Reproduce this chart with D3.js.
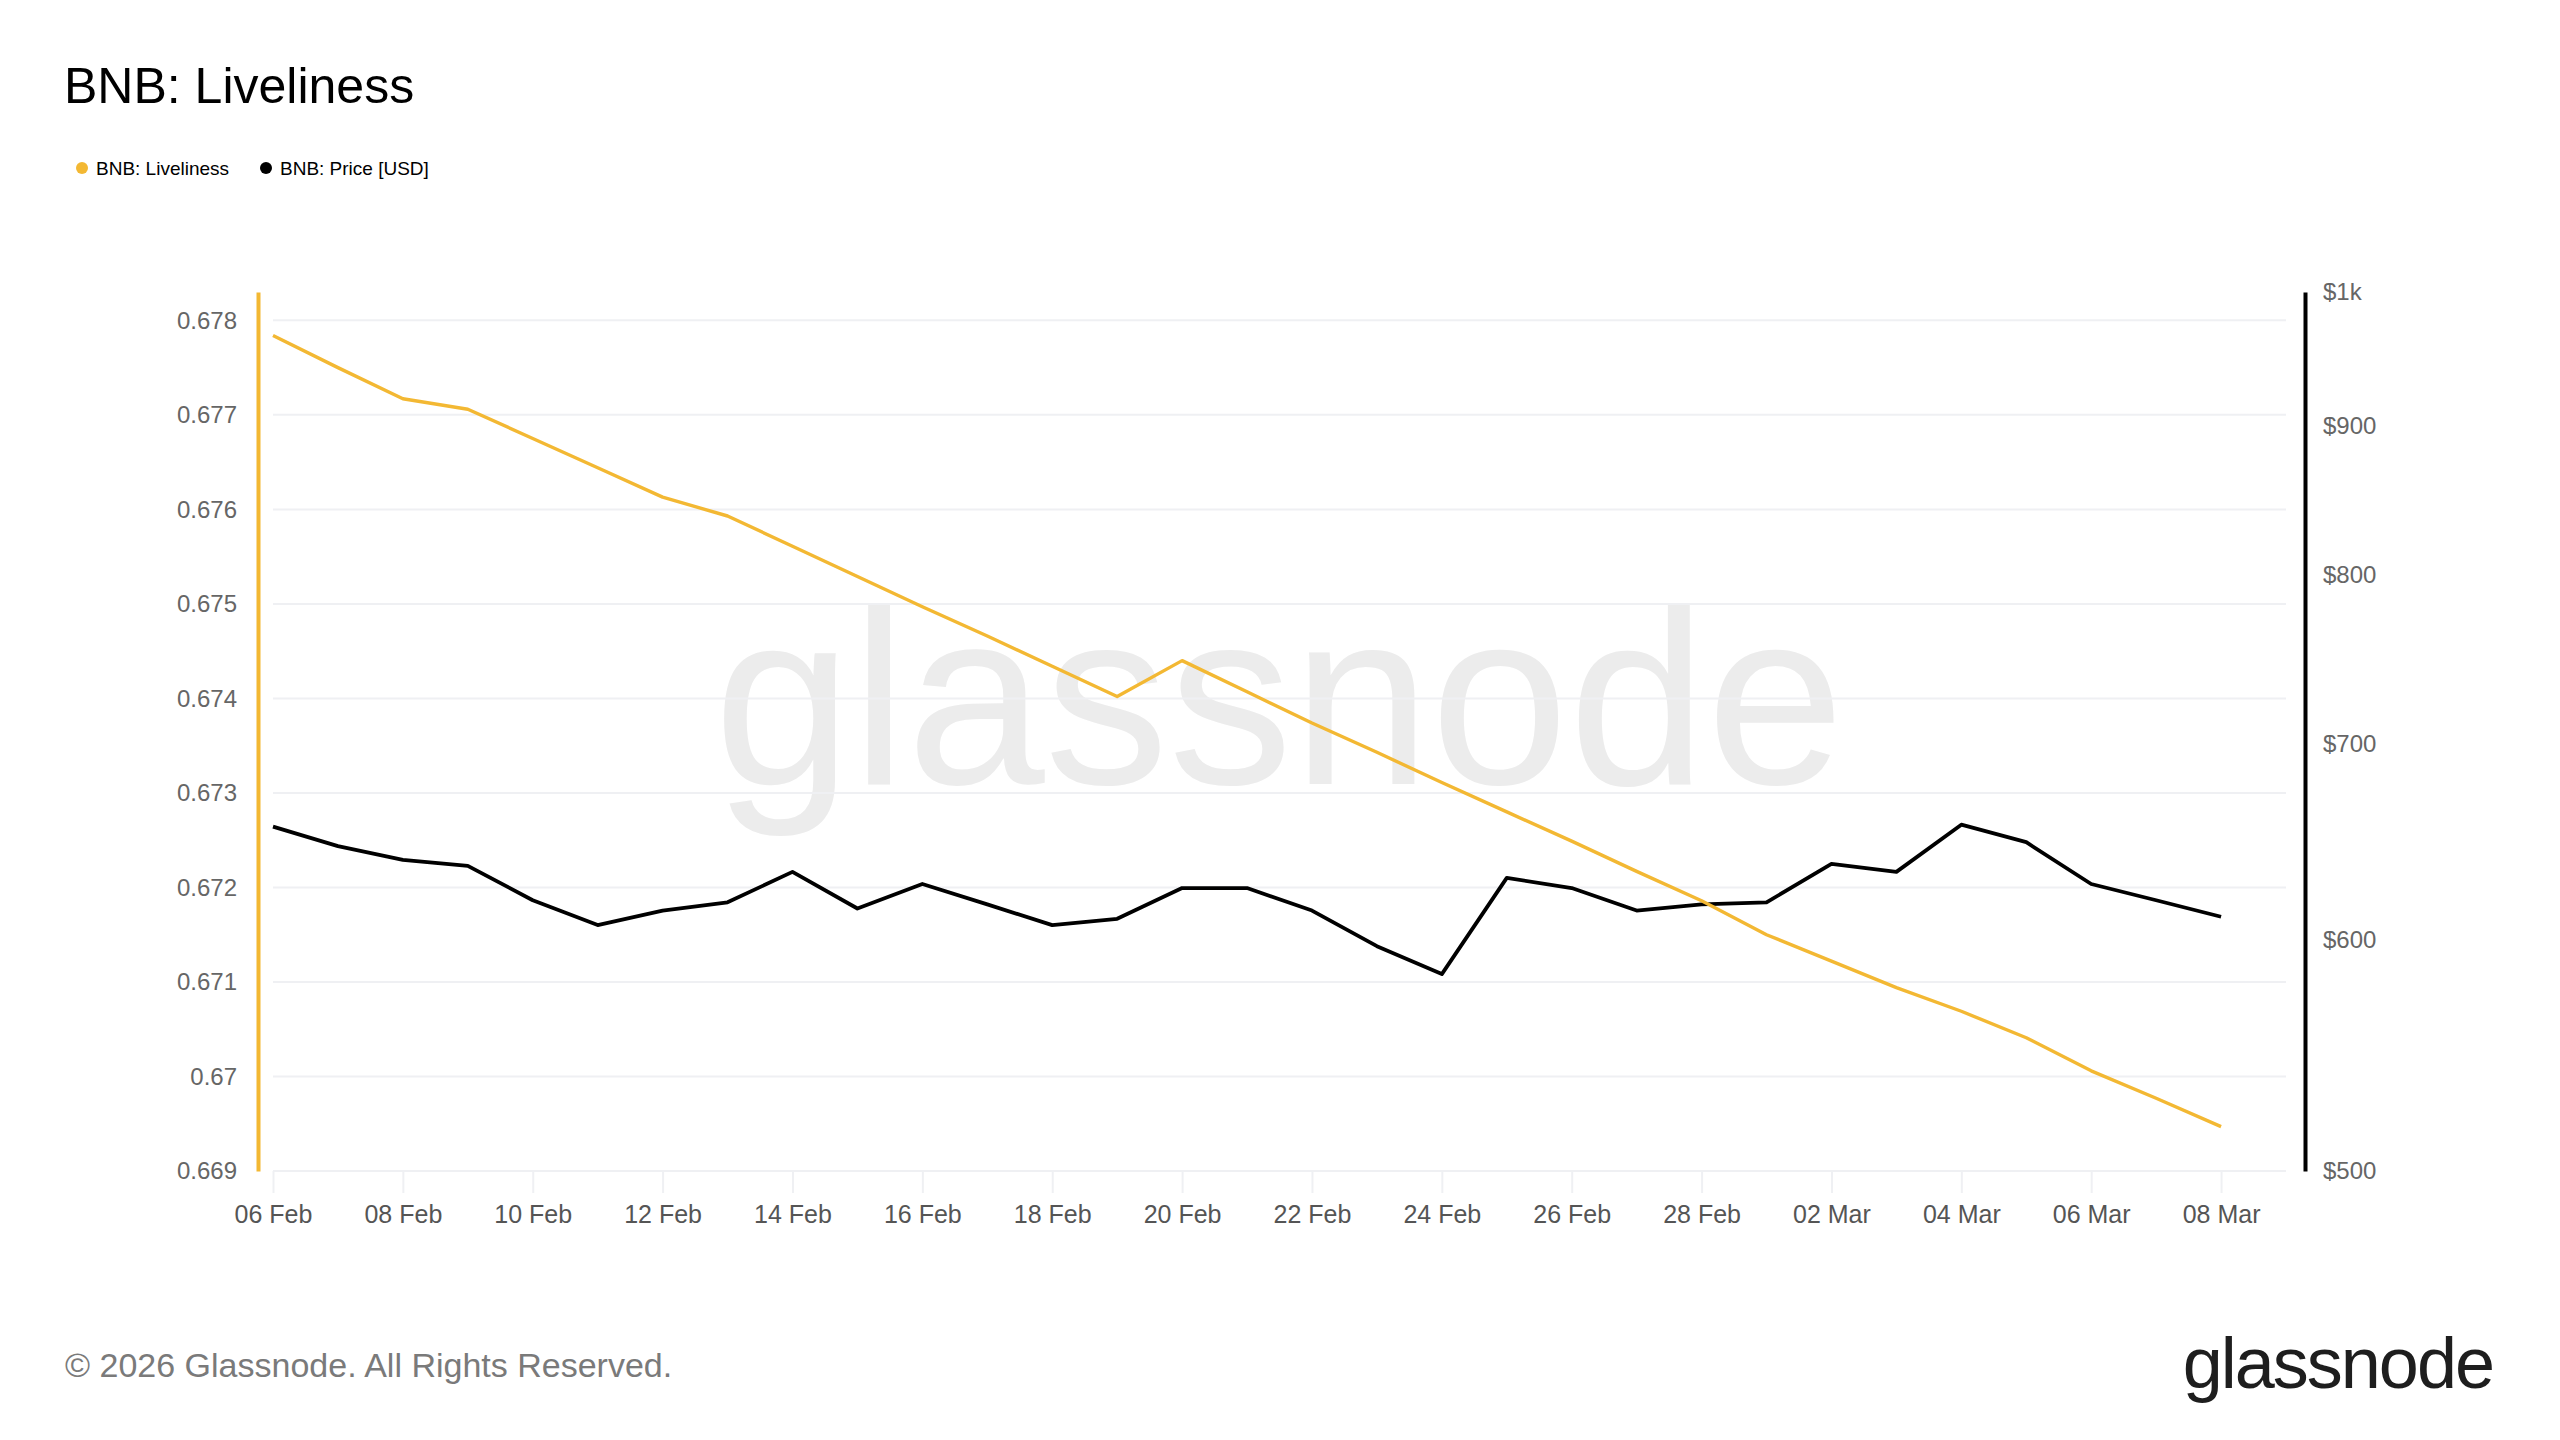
<!DOCTYPE html>
<html>
<head>
<meta charset="utf-8">
<script src="https://cdn.jsdelivr.net/npm/d3@7"></script>
<style>
	body { margin: 0; background: #ffffff; }
	svg { display: block; font-family: "Liberation Sans", Arial, sans-serif; }
</style>
</head>
<body>
<div id="chart"></div>
<script>
// BNB liveliness vs. price, daily, 06 Feb - 08 Mar 2026.

// Dimensions of SVG drawing area
var width = 2560,
	height = 1440;

// Daily observation dates
var dates = ['2026-02-06', '2026-02-07', '2026-02-08', '2026-02-09', '2026-02-10', '2026-02-11',
	'2026-02-12', '2026-02-13', '2026-02-14', '2026-02-15', '2026-02-16', '2026-02-17',
	'2026-02-18', '2026-02-19', '2026-02-20', '2026-02-21', '2026-02-22', '2026-02-23',
	'2026-02-24', '2026-02-25', '2026-02-26', '2026-02-27', '2026-02-28', '2026-03-01',
	'2026-03-02', '2026-03-03', '2026-03-04', '2026-03-05', '2026-03-06', '2026-03-07',
	'2026-03-08'];

// BNB: Liveliness (left axis)
var liveliness = [0.67784, 0.67750, 0.67717, 0.67706, 0.67675, 0.67644,
	0.67613, 0.67593, 0.67561, 0.67529, 0.67497, 0.67466,
	0.67434, 0.67402, 0.67440, 0.67407, 0.67374, 0.67343,
	0.67311, 0.67280, 0.67249, 0.67217, 0.67186, 0.67150,
	0.67122, 0.67094, 0.67069, 0.67041, 0.67006, 0.66977,
	0.66947];

// BNB: Price [USD] (right axis, log scale)
var price = [656, 646, 639, 636, 619, 607,
	614, 618, 633, 615, 627, 617,
	607, 610, 625, 625, 614, 597,
	584, 630, 625, 614, 617, 618,
	637, 633, 657, 648, 627, 619,
	611];

// Axis ticks
var leftTicks = [0.669, 0.670, 0.671, 0.672, 0.673, 0.674, 0.675, 0.676, 0.677, 0.678];
var leftTickLabels = ['0.669', '0.67', '0.671', '0.672', '0.673', '0.674', '0.675', '0.676', '0.677', '0.678'];
var rightTicks = [500, 600, 700, 800, 900, 1000];
var rightTickLabels = ['$500', '$600', '$700', '$800', '$900', '$1k'];

var series = [
	{ name: 'BNB: Liveliness', color: '#f3b833' },
	{ name: 'BNB: Price [USD]', color: '#000000' }
];

var plot = { left: 273, right: 2286, top: 292, bottom: 1171, leftAxisX: 258, rightAxisX: 2305 };

var parseDate = d3.utcParse('%Y-%m-%d');
var fmtDate = d3.utcFormat('%d %b');

var data = dates.map(function(d, i) {
	return { date: parseDate(d), live: liveliness[i], price: price[i] };
});

var xScale = d3.scaleUtc()
	.domain([parseDate('2026-02-06'), parseDate('2026-03-09')])
	.range([plot.left, plot.right]);

var yLeft = d3.scaleLinear()
	.domain([0.669, 0.6783])
	.range([plot.bottom, plot.top]);

var yRight = d3.scaleLog()
	.domain([500, 1000])
	.range([plot.bottom, plot.top]);

var svg = d3.select('#chart').append('svg')
	.attr('width', width)
	.attr('height', height);

svg.append('rect')
	.attr('width', width)
	.attr('height', height)
	.attr('fill', '#ffffff');

// Title
svg.append('text')
	.attr('x', 64)
	.attr('y', 103)
	.attr('font-size', 50)
	.attr('fill', '#000')
	.text('BNB: Liveliness');

// Legend
var legend = svg.append('g').attr('class', 'legend');
var legendX = [82, 266];
series.forEach(function(s, i) {
	legend.append('circle')
		.attr('cx', legendX[i])
		.attr('cy', 168)
		.attr('r', 6)
		.attr('fill', s.color);
	legend.append('text')
		.attr('x', legendX[i] + 14)
		.attr('y', 168)
		.attr('dy', '0.35em')
		.attr('font-size', 19)
		.attr('fill', '#000')
		.text(s.name);
});

// Watermark
svg.append('text')
	.attr('x', 1279)
	.attr('y', 784)
	.attr('text-anchor', 'middle')
	.attr('font-size', 248)
	.attr('fill', '#ececec')
	.text('glassnode');

// Horizontal gridlines
svg.append('g')
	.selectAll('line')
	.data(leftTicks)
	.enter()
		.append('line')
		.attr('x1', plot.left)
		.attr('x2', plot.right)
		.attr('y1', function(d) { return yLeft(d); })
		.attr('y2', function(d) { return yLeft(d); })
		.attr('stroke', '#eff0f3')
		.attr('stroke-width', 2);

// X axis (ticks hang below the bottom gridline)
var xTickValues = data.filter(function(d, i) { return i % 2 === 0; }).map(function(d) { return d.date; });
var xAxis = svg.append('g')
	.attr('transform', 'translate(0,' + plot.bottom + ')')
	.call(d3.axisBottom(xScale)
		.tickValues(xTickValues)
		.tickFormat(fmtDate)
		.tickSize(22)
		.tickSizeOuter(0)
		.tickPadding(12));
xAxis.select('.domain').remove();
xAxis.selectAll('.tick line').attr('stroke', '#eff0f3').attr('stroke-width', 2);
xAxis.selectAll('.tick text')
	.attr('font-size', 25)
	.attr('fill', '#555555')
	.attr('font-family', '"Liberation Sans", Arial, sans-serif');

// Left axis
var leftAxis = svg.append('g')
	.attr('transform', 'translate(' + plot.leftAxisX + ',0)')
	.call(d3.axisLeft(yLeft)
		.tickValues(leftTicks)
		.tickFormat(function(d, i) { return leftTickLabels[i]; })
		.tickSize(0)
		.tickPadding(21));
leftAxis.select('.domain').attr('stroke', series[0].color).attr('stroke-width', 4);
leftAxis.selectAll('.tick text')
	.attr('font-size', 24)
	.attr('fill', '#666666')
	.attr('font-family', '"Liberation Sans", Arial, sans-serif');

// Right axis
var rightAxis = svg.append('g')
	.attr('transform', 'translate(' + plot.rightAxisX + ',0)')
	.call(d3.axisRight(yRight)
		.tickValues(rightTicks)
		.tickFormat(function(d, i) { return rightTickLabels[i]; })
		.tickSize(0)
		.tickPadding(18));
rightAxis.select('.domain').attr('stroke', '#000').attr('stroke-width', 4);
rightAxis.selectAll('.tick text')
	.attr('font-size', 24)
	.attr('fill', '#666666')
	.attr('font-family', '"Liberation Sans", Arial, sans-serif');

// Lines
var priceLine = d3.line()
	.x(function(d) { return xScale(d.date); })
	.y(function(d) { return yRight(d.price); });

var liveLine = d3.line()
	.x(function(d) { return xScale(d.date); })
	.y(function(d) { return yLeft(d.live); });

svg.append('path')
	.datum(data)
	.attr('d', priceLine)
	.attr('fill', 'none')
	.attr('stroke', series[1].color)
	.attr('stroke-width', 3.8)
	.attr('stroke-linejoin', 'round');

svg.append('path')
	.datum(data)
	.attr('d', liveLine)
	.attr('fill', 'none')
	.attr('stroke', series[0].color)
	.attr('stroke-width', 3.4)
	.attr('stroke-linejoin', 'round');

// Footer
svg.append('text')
	.attr('x', 65)
	.attr('y', 1377)
	.attr('font-size', 34)
	.attr('fill', '#7a7a7a')
	.text('\u00a9 2026 Glassnode. All Rights Reserved.');

svg.append('text')
	.attr('x', 2493)
	.attr('y', 1388)
	.attr('text-anchor', 'end')
	.attr('font-size', 72)
	.attr('letter-spacing', -2)
	.attr('fill', '#1e1e1e')
	.text('glassnode');
</script>
</body>
</html>
